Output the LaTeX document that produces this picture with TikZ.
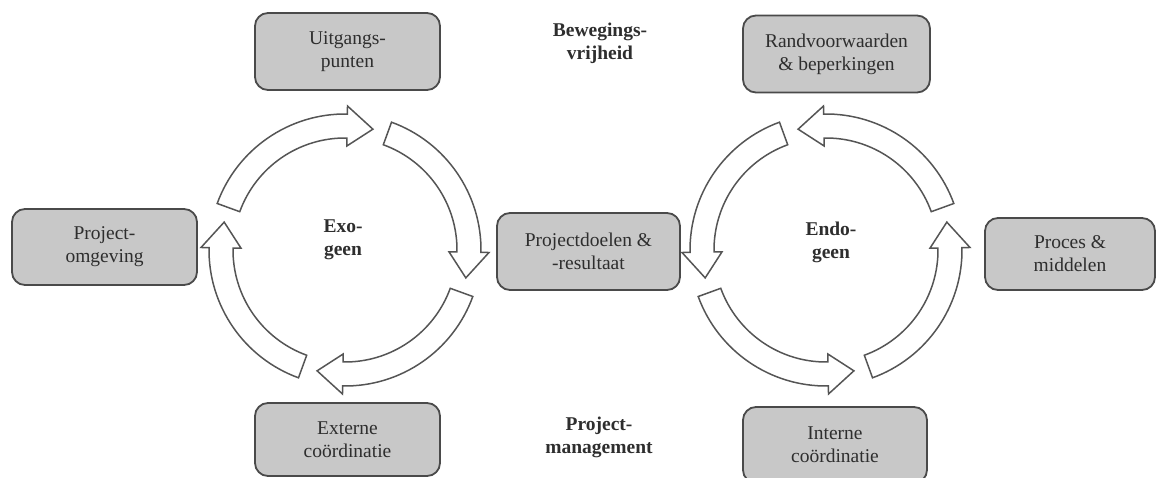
\documentclass[tikz,border=0pt]{standalone}
\usepackage{fontspec}
\setmainfont{Liberation Serif}
\definecolor{boxfill}{HTML}{C8C8C8}
\definecolor{boxline}{HTML}{4A4A4A}
\definecolor{arrline}{HTML}{555555}
\definecolor{txt}{HTML}{2E2E2E}
\begin{document}
\begin{tikzpicture}[x=1pt,y=1pt,
  box/.style={draw=boxline, fill=boxfill, rounded corners=13pt, line width=1.8pt,
    minimum width=185pt, minimum height=77pt, align=center, inner sep=0pt,
    text=txt, font=\fontsize{19.5}{23}\selectfont},
  lbl/.style={align=center, inner sep=0pt, text=txt,
    font=\fontsize{19.5}{23}\selectfont\bfseries},
  arr/.style={draw=arrline, fill=white, line width=1.5pt, line join=miter}]
\useasboundingbox (0,0) rectangle (1161,477);

% boxes
\node[box] (uit) at (347.5,425.5) {Uitgangs-\\punten};
\node[box, minimum width=187pt] (rand) at (836.5,423) {Randvoorwaarden\\\& beperkingen};
\node[box, minimum height=76pt] (omg) at (104.5,230) {Project-\\omgeving};
\node[box, minimum width=183pt] (doel) at (588.5,225.5) {Projectdoelen \&\\-resultaat};
\node[box, minimum width=170pt, minimum height=72pt] (proc) at (1070,223) {Proces \&\\middelen};
\node[box, minimum height=73pt] (ext) at (347.5,37.5) {Externe\\coördinatie};
\node[box, minimum width=184pt, minimum height=76pt] (int) at (835,32) {Interne\\coördinatie};

% free labels
\node[lbl] (bew) at (600,434) {Bewegings-\\vrijheid};
\node[lbl] (pm) at (599,40) {Project-\\management};
\node[lbl] (exo) at (343,237) {Exo-\\geen};
\node[lbl] (endo) at (831,235) {Endo-\\geen};

% left cycle (clockwise)
\begin{scope}[shift={(345,227)}]
\foreach \t in {160,70,-20,-110}{
  \pgfmathsetmacro\p{\t-83}
  \pgfmathsetmacro\h{\p+12}
  \draw[arr] (\t:136) arc[start angle=\t, end angle=\h, radius=136]
    -- (\h:144) -- (\p:124) -- (\h:104) -- (\h:112)
    arc[start angle=\h, end angle=\t, radius=112] -- cycle;
}
\end{scope}

% right cycle (counter-clockwise)
\begin{scope}[shift={(826,227)}]
\foreach \t in {20,110,200,290}{
  \pgfmathsetmacro\p{\t+83}
  \pgfmathsetmacro\h{\p-12}
  \draw[arr] (\t:136) arc[start angle=\t, end angle=\h, radius=136]
    -- (\h:144) -- (\p:124) -- (\h:104) -- (\h:112)
    arc[start angle=\h, end angle=\t, radius=112] -- cycle;
}
\end{scope}
\end{tikzpicture}
\end{document}
